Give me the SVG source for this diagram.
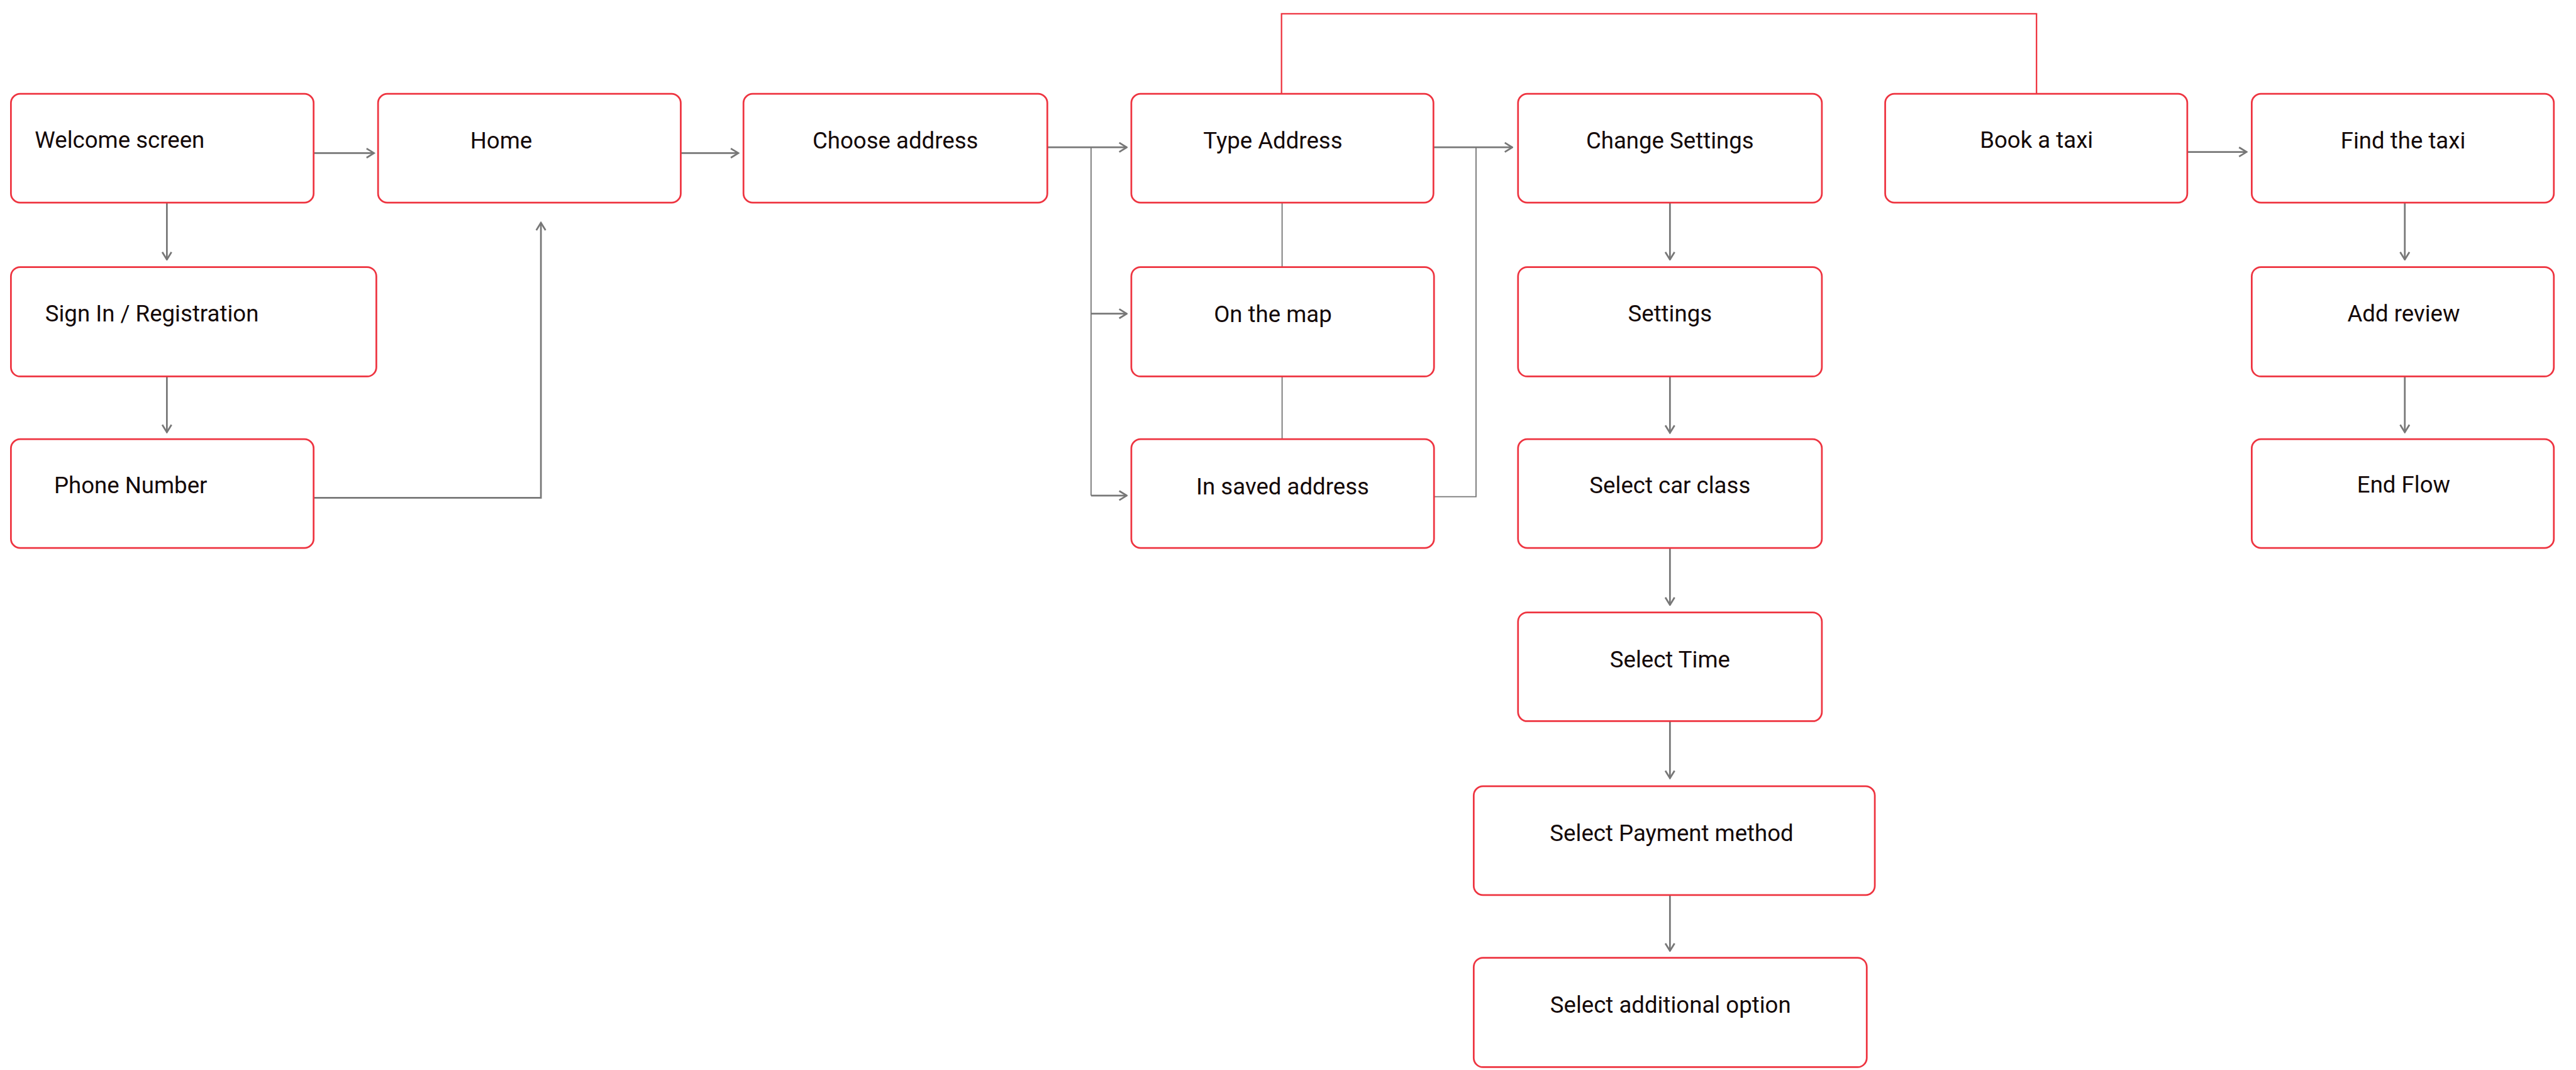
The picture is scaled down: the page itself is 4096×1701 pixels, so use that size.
<svg xmlns="http://www.w3.org/2000/svg" width="4096" height="1701" viewBox="0 0 4096 1701">
<style>
.box{fill:#ffffff;stroke:#ee3440;stroke-width:3}
.lbl{font-family:Roboto,"Liberation Sans",sans-serif;font-size:40px;fill:#140909;text-anchor:middle}
.con{fill:none;stroke:#777777;stroke-width:3}
.thin{fill:none;stroke:#777777;stroke-width:2}
.red{fill:none;stroke:#ee3440;stroke-width:2.5}
</style>
<defs>
<marker id="ah" viewBox="-16 -10 18 20" refX="0" refY="0" markerWidth="18" markerHeight="20" markerUnits="userSpaceOnUse" orient="auto">
<path d="M-13,-8 L0,0 L-13,8" fill="none" stroke="#777777" stroke-width="3"/>
</marker>
</defs>
<rect width="4096" height="1701" fill="#ffffff"/>
<g transform="scale(0.915)">
<g id="connectors">
<path class="red" d="M2227,163 V24 H3539 V163"/>
<path class="con" marker-end="url(#ah)" d="M545,266 H650"/>
<path class="con" marker-end="url(#ah)" d="M1183,266 H1283"/>
<path class="con" marker-end="url(#ah)" d="M290,352 V451"/>
<path class="con" marker-end="url(#ah)" d="M290,653 V751"/>
<path class="con" marker-end="url(#ah)" d="M545,865 H940 V387"/>
<path class="con" marker-end="url(#ah)" d="M1820,256 H1958"/>
<path class="thin" d="M1896,256 V861"/>
<path class="con" marker-end="url(#ah)" d="M1896,545 H1958"/>
<path class="con" marker-end="url(#ah)" d="M1896,861 H1958"/>
<path class="thin" d="M2228,352 V464"/>
<path class="thin" d="M2228,654 V763"/>
<path class="con" marker-end="url(#ah)" d="M2491,256 H2628"/>
<path class="thin" d="M2492,863 H2565 V256"/>
<path class="con" marker-end="url(#ah)" d="M2902,352 V451"/>
<path class="con" marker-end="url(#ah)" d="M2902,654 V752"/>
<path class="con" marker-end="url(#ah)" d="M2902,952 V1051"/>
<path class="con" marker-end="url(#ah)" d="M2902,1253 V1352"/>
<path class="con" marker-end="url(#ah)" d="M2902,1555 V1652"/>
<path class="con" marker-end="url(#ah)" d="M3801,264 H3904"/>
<path class="con" marker-end="url(#ah)" d="M4179,352 V451"/>
<path class="con" marker-end="url(#ah)" d="M4179,654 V751"/>
</g>
<g id="welcome"><rect class="box" x="19" y="163" width="526" height="189" rx="16"/><text class="lbl" x="208" y="257">Welcome screen</text></g>
<g id="home"><rect class="box" x="657" y="163" width="526" height="189" rx="16"/><text class="lbl" x="871" y="258">Home</text></g>
<g id="choose"><rect class="box" x="1292" y="163" width="528" height="189" rx="16"/><text class="lbl" x="1556" y="258">Choose address</text></g>
<g id="type"><rect class="box" x="1966" y="163" width="525" height="189" rx="16"/><text class="lbl" x="2212" y="258">Type Address</text></g>
<g id="change"><rect class="box" x="2638" y="163" width="528" height="189" rx="16"/><text class="lbl" x="2902" y="258">Change Settings</text></g>
<g id="book"><rect class="box" x="3276" y="163" width="525" height="189" rx="16"/><text class="lbl" x="3539" y="257">Book a taxi</text></g>
<g id="find"><rect class="box" x="3913" y="163" width="525" height="189" rx="16"/><text class="lbl" x="4176" y="258">Find the taxi</text></g>
<g id="signin"><rect class="box" x="19" y="464" width="635" height="190" rx="16"/><text class="lbl" x="264" y="559">Sign In / Registration</text></g>
<g id="map"><rect class="box" x="1966" y="464" width="526" height="190" rx="16"/><text class="lbl" x="2212" y="560">On the map</text></g>
<g id="settings"><rect class="box" x="2638" y="464" width="528" height="190" rx="16"/><text class="lbl" x="2902" y="558">Settings</text></g>
<g id="review"><rect class="box" x="3913" y="464" width="525" height="190" rx="16"/><text class="lbl" x="4177" y="558">Add review</text></g>
<g id="phone"><rect class="box" x="19" y="763" width="526" height="189" rx="16"/><text class="lbl" x="227" y="857">Phone Number</text></g>
<g id="saved"><rect class="box" x="1966" y="763" width="526" height="189" rx="16"/><text class="lbl" x="2229" y="859">In saved address</text></g>
<g id="carclass"><rect class="box" x="2638" y="763" width="528" height="189" rx="16"/><text class="lbl" x="2902" y="857">Select car class</text></g>
<g id="end"><rect class="box" x="3913" y="763" width="525" height="189" rx="16"/><text class="lbl" x="4177" y="856">End Flow</text></g>
<g id="time"><rect class="box" x="2638" y="1064" width="528" height="189" rx="16"/><text class="lbl" x="2902" y="1160">Select Time</text></g>
<g id="payment"><rect class="box" x="2561" y="1366" width="697" height="189" rx="16"/><text class="lbl" x="2905" y="1461">Select Payment method</text></g>
<g id="additional"><rect class="box" x="2561" y="1664" width="683" height="190" rx="16"/><text class="lbl" x="2903" y="1760">Select additional option</text></g>
</g>
</svg>
